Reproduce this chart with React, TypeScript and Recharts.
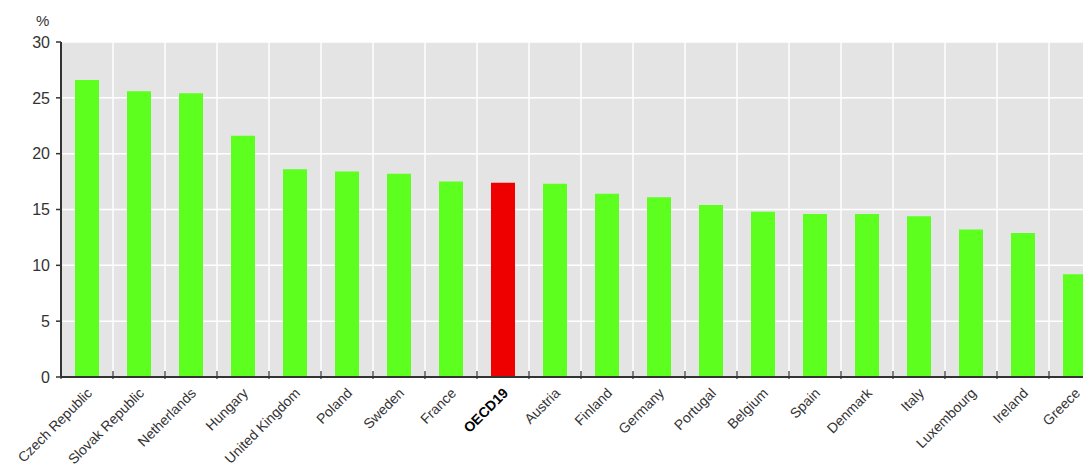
import React from "react";
import { BarChart, Bar, XAxis, YAxis, CartesianGrid, Cell } from "recharts";

const countries = [
  "Czech Republic", "Slovak Republic", "Netherlands", "Hungary", "United Kingdom",
  "Poland", "Sweden", "France", "OECD19", "Austria", "Finland", "Germany",
  "Portugal", "Belgium", "Spain", "Denmark", "Italy", "Luxembourg", "Ireland", "Greece",
];
const values = [
  26.6, 25.6, 25.4, 21.6, 18.6, 18.4, 18.2, 17.5, 17.4, 17.3, 16.4, 16.1,
  15.4, 14.8, 14.6, 14.6, 14.4, 13.2, 12.9, 9.2,
];
const yTicks = [0, 5, 10, 15, 20, 25, 30];
const highlight = "OECD19";

const data = countries.map((c, i) => ({ name: c, value: values[i] }));

if (typeof document !== "undefined") {
  document.documentElement.style.overflow = "hidden";
  document.body.style.overflow = "hidden";
}

const FONT = "'Liberation Sans', Arial, sans-serif";
const HALF = 26;

const XTick = (props: any) => {
  const { x, y, payload, index } = props;
  const isH = payload.value === highlight;
  const last = index === countries.length - 1;
  const tx = x + 6;
  const ty = y + 15;
  return (
    <g>
      <line x1={x - HALF} x2={x - HALF} y1={y - 8} y2={y} stroke="#333" strokeWidth={1.2} />
      {last && <line x1={x + HALF} x2={x + HALF} y1={y - 8} y2={y} stroke="#333" strokeWidth={1.2} />}
      <text
        x={tx}
        y={ty}
        transform={`rotate(-45, ${tx}, ${ty})`}
        textAnchor="end"
        fontFamily={FONT}
        fontSize={14}
        fontWeight={isH ? 700 : 400}
        fill={isH ? "#000" : "#333"}
      >
        {payload.value}
      </text>
    </g>
  );
};

export default function App() {
  return (
    <div style={{ position: "relative", width: 1100, height: 462, overflow: "hidden" }}>
      <div
        style={{
          position: "absolute",
          left: 28,
          top: 4,
          fontFamily: FONT,
          fontSize: 15,
          color: "#333",
        }}
      >
        %
      </div>
      <BarChart
        width={1100}
        height={462}
        data={data}
        margin={{ top: 34, right: 7, left: 0, bottom: 0 }}
        barSize={24}
      >
        <CartesianGrid
          fill="#e4e4e4"
          stroke="#ffffff"
          strokeWidth={1.5}
          verticalCoordinatesGenerator={({ offset }: any) =>
            countries.slice(1).map((_, i) => offset.left + ((i + 1) * offset.width) / countries.length)
          }
        />
        <XAxis
          dataKey="name"
          interval={0}
          height={93}
          tickSize={0}
          tickLine={false}
          axisLine={{ stroke: "#333", strokeWidth: 2 }}
          tick={<XTick />}
        />
        <YAxis
          width={53}
          domain={[0, 30]}
          ticks={yTicks}
          interval={0}
          tickSize={5}
          tickLine={{ stroke: "#333", strokeWidth: 1.5 }}
          axisLine={{ stroke: "#333", strokeWidth: 2 }}
          tick={{ fontFamily: FONT, fontSize: 16, fill: "#333" }}
          tickMargin={6}
        />
        <Bar dataKey="value" isAnimationActive={false}>
          {data.map((d) => (
            <Cell key={d.name} fill={d.name === highlight ? "#ee0000" : "#5cff1e"} />
          ))}
        </Bar>
      </BarChart>
    </div>
  );
}
